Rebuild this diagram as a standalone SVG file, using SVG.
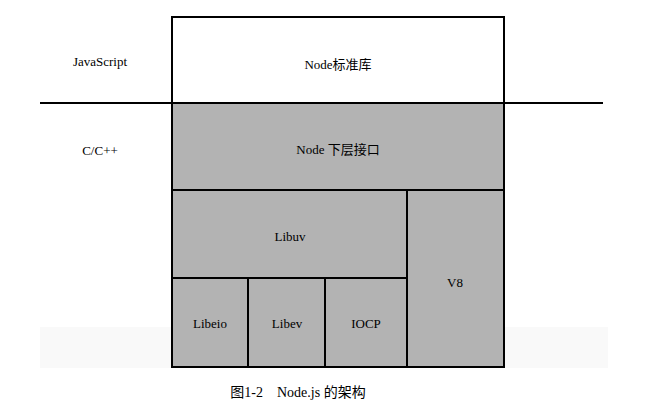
<svg xmlns="http://www.w3.org/2000/svg" width="653" height="417" viewBox="0 0 653 417">
<style>
.b{stroke:#000;stroke-width:2}
.g{fill:#b3b3b3}
text{font-family:"Liberation Serif","Noto Sans CJK SC",serif;font-size:13px;fill:#000;text-anchor:middle}
</style>
<rect width="653" height="417" fill="#fff"/>
<rect x="40" y="327" width="568" height="41" fill="#f9f9f9"/>
<g id="connectors"><line x1="40" y1="103" x2="603" y2="103" class="b"/></g>
<text x="100" y="66">JavaScript</text>
<text x="100" y="155">C/C++</text>
<g id="stdlib"><rect x="172" y="17" width="332" height="86" fill="#fff" class="b"/><text x="338" y="69">Node标准库</text></g>
<g id="lower"><rect x="172" y="103" width="332" height="87" class="b g"/><text x="338" y="154">Node 下层接口</text></g>
<g id="libuv"><rect x="172" y="190" width="235" height="88" class="b g"/><text x="290" y="241">Libuv</text></g>
<g id="v8"><rect x="407" y="190" width="97" height="177" class="b g"/><text x="455" y="287">V8</text></g>
<g id="libeio"><rect x="172" y="278" width="76" height="89" class="b g"/><text x="210" y="328">Libeio</text></g>
<g id="libev"><rect x="248" y="278" width="77" height="89" class="b g"/><text x="287" y="328">Libev</text></g>
<g id="iocp"><rect x="325" y="278" width="82" height="89" class="b g"/><text x="366" y="328">IOCP</text></g>
<text x="298" y="397" style="font-size:14px">图1-2　Node.js 的架构</text>
</svg>
